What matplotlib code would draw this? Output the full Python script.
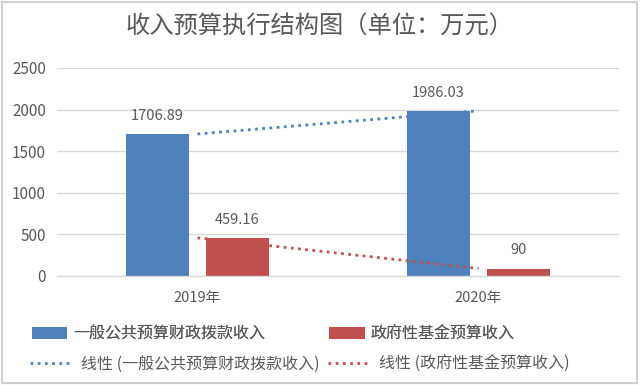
import matplotlib
matplotlib.use("Agg")
import matplotlib.pyplot as plt
from matplotlib.patches import Rectangle
import numpy as np

plt.rcParams['font.family'] = ['Noto Sans CJK SC', 'DejaVu Sans']

title = "收入预算执行结构图（单位：万元）"
categories = ["2019年", "2020年"]
series_names = ["一般公共预算财政拨款收入", "政府性基金预算收入"]
general_budget = [1706.89, 1986.03]
fund_budget = [459.16, 90]
value_labels_general = ["1706.89", "1986.03"]
value_labels_fund = ["459.16", "90"]
yticks = [0, 500, 1000, 1500, 2000, 2500]

blue = "#4F81BD"
red = "#C0504D"
txt = "#595959"
grid = "#D9D9D9"

fig = plt.figure(figsize=(6.4, 3.85), dpi=100)
fig.patches.append(Rectangle((0.003, 0.005), 0.992, 0.99, transform=fig.transFigure,
                             fill=False, edgecolor="#D0D0D0", linewidth=1.5))
ax = fig.add_axes([57/640, 1-276/385, (619-57)/640, (276-68)/385])

x = np.arange(len(categories))
w = 0.224
off = 0.142
b1 = ax.bar(x - off, general_budget, w, color=blue, label=series_names[0], zorder=2)
b2 = ax.bar(x + off, fund_budget, w, color=red, label=series_names[1], zorder=2)

# linear trendlines (through category centers)
c1 = np.polyfit(x, general_budget, 1)
c2 = np.polyfit(x, fund_budget, 1)
l1, = ax.plot(x, np.polyval(c1, x), linestyle=(0, (1, 1.6)), color=blue, linewidth=2,
              label="线性 (" + series_names[0] + ")", zorder=3)
l2, = ax.plot(x, np.polyval(c2, x), linestyle=(0, (1, 1.6)), color=red, linewidth=2,
              label="线性 (" + series_names[1] + ")", zorder=3)

for xi, v, s in zip(x - off, general_budget, value_labels_general):
    ax.annotate(s, (xi, v), xytext=(0, 8), textcoords="offset points",
                ha="center", va="bottom", fontsize=10.5, color=txt)
for xi, v, s in zip(x + off, fund_budget, value_labels_fund):
    ax.annotate(s, (xi, v), xytext=(0, 8), textcoords="offset points",
                ha="center", va="bottom", fontsize=10.5, color=txt)

ax.set_xlim(-0.5, 1.5)
ax.set_ylim(0, 2500)
ax.set_yticks(yticks)
ax.set_yticklabels([str(t) for t in yticks])
ax.set_xticks(x)
ax.set_xticklabels(categories)
ax.tick_params(axis="both", length=0, colors=txt)
ax.tick_params(axis="x", pad=11, labelsize=10.5)
ax.tick_params(axis="y", pad=8, labelsize=11)
ax.yaxis.grid(True, color=grid, linewidth=1)
ax.set_axisbelow(True)
for sp in ["top", "right", "left"]:
    ax.spines[sp].set_visible(False)
ax.spines["bottom"].set_color(grid)
ax.spines["bottom"].set_linewidth(1)

fig.text(0.5, 1-27/385, title, ha="center", va="center", fontsize=17.5, color=txt)

fs = 11.5
leg1 = fig.legend(handles=[b1, b2], loc="center left",
                  bbox_to_anchor=(32/640, 1-334/385), ncol=2, frameon=False,
                  fontsize=fs, labelcolor=txt, handlelength=2.2, handleheight=0.7,
                  handletextpad=0.4, columnspacing=4.0, borderpad=0, borderaxespad=0)
leg2 = fig.legend(handles=[l1, l2], loc="center left",
                  bbox_to_anchor=(30/640, 1-364/385), ncol=2, frameon=False,
                  fontsize=fs, labelcolor=txt, handlelength=2.6, handleheight=0.7,
                  handletextpad=0.6, columnspacing=0.5, borderpad=0, borderaxespad=0)
fig.add_artist(leg1)
fig.savefig("out.png", dpi=100)
